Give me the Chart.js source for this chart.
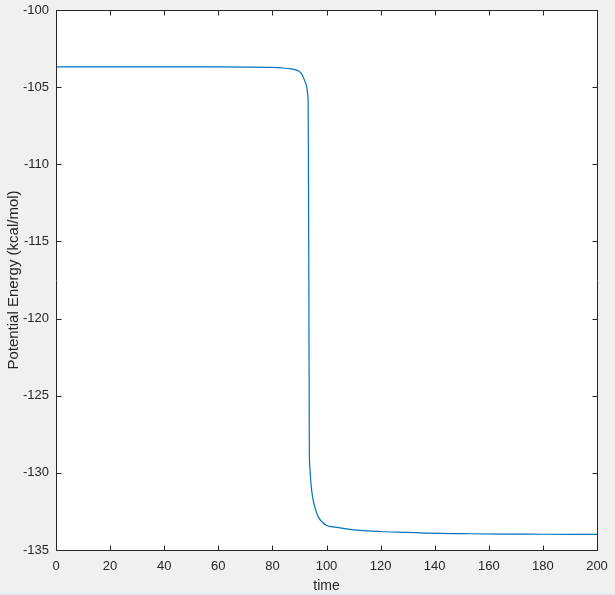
<!DOCTYPE html>
<html>
<head>
<meta charset="utf-8">
<script src="https://cdn.jsdelivr.net/npm/chart.js@4/dist/chart.umd.min.js"></script>
<style>
  html, body { margin: 0; padding: 0; background: #f0f0f0; }
  canvas { display: block; }
</style>
</head>
<body>
<canvas id="c" width="615" height="595"></canvas>
<script>
// ---- Data ----
const times = [0, 20, 40, 60, 70, 80, 84, 87, 89, 90.2, 91, 91.7, 92.3, 92.7, 93.0, 93.2, 93.3, 93.5, 93.65, 93.9, 94.3, 95.1, 96, 97, 98.5, 100.1, 102.5, 105, 108, 112.4, 119.8, 130, 138.3, 150, 164.1, 180, 200];
const energies = [-103.685, -103.685, -103.687, -103.69, -103.70, -103.72, -103.76, -103.82, -103.9, -104.03, -104.2, -104.48, -104.75, -105.0, -105.4, -105.9, -109.0, -118.8, -128.5, -129.8, -130.8, -131.8, -132.4, -132.87, -133.2, -133.41, -133.5, -133.56, -133.65, -133.73, -133.80, -133.86, -133.91, -133.94, -133.97, -133.98, -133.99];
const xTicks = [0, 20, 40, 60, 80, 100, 120, 140, 160, 180, 200];
const yTicks = [-135, -130, -125, -120, -115, -110, -105, -100];
const xLabel = 'time';
const yLabel = 'Potential Energy (kcal/mol)';

const points = times.map((t, i) => ({ x: t, y: energies[i] }));

const AXIS = '#262626';
const FONT = '"Liberation Sans", Arial, Helvetica, sans-serif';

const boxPlugin = {
  id: 'matlabBox',
  beforeDraw(chart) {
    const { ctx, chartArea: a } = chart;
    ctx.save();
    ctx.fillStyle = '#f0f0f0';
    ctx.fillRect(0, 0, chart.width, chart.height);
    ctx.fillStyle = '#e1ebf7';
    ctx.fillRect(0, chart.height - 2, chart.width, 2);
    ctx.fillStyle = '#ffffff';
    ctx.fillRect(a.left, a.top, a.right - a.left + 1, a.bottom - a.top + 1);
    ctx.restore();
  },
  afterDraw(chart) {
    const { ctx, chartArea: a, scales } = chart;
    const L = a.left + 0.5, R = a.right + 0.5, T = a.top + 0.5, B = a.bottom + 0.5;
    const tl = 5;
    ctx.save();
    ctx.strokeStyle = AXIS;
    ctx.lineWidth = 1;
    ctx.beginPath();
    ctx.rect(L, T, R - L, B - T);
    ctx.stroke();
    ctx.beginPath();
    xTicks.forEach(v => {
      const px = Math.round(scales.x.getPixelForValue(v)) + 0.5;
      ctx.moveTo(px, B); ctx.lineTo(px, B - tl);
      ctx.moveTo(px, T); ctx.lineTo(px, T + tl);
    });
    yTicks.forEach(v => {
      const py = Math.round(scales.y.getPixelForValue(v)) + 0.5;
      ctx.moveTo(L, py); ctx.lineTo(L + tl, py);
      ctx.moveTo(R, py); ctx.lineTo(R - tl, py);
    });
    ctx.stroke();
    ctx.restore();
  }
};

new Chart(document.getElementById('c'), {
  type: 'line',
  data: {
    datasets: [{
      data: points,
      borderColor: '#0072BD',
      borderWidth: 1.2,
      pointRadius: 0,
      fill: false,
      cubicInterpolationMode: 'monotone'
    }]
  },
  options: {
    responsive: false,
    animation: false,
    events: [],
    layout: { padding: { left: 0, top: 10, right: 18, bottom: 0 } },
    plugins: { legend: { display: false }, tooltip: { enabled: false } },
    scales: {
      x: {
        type: 'linear',
        min: 0, max: 200,
        afterFit(s) { s.height = 45; s.paddingLeft = 0; s.paddingRight = 0; },
        afterBuildTicks(s) { s.ticks = xTicks.map(v => ({ value: v })); },
        grid: { display: false, drawTicks: false },
        border: { display: false },
        ticks: { color: AXIS, font: { family: FONT, size: 13 }, padding: 9, maxRotation: 0, autoSkip: false },
        title: { display: true, text: xLabel, color: AXIS, font: { family: FONT, size: 14 }, padding: { top: 0, bottom: 0 } }
      },
      y: {
        type: 'linear',
        min: -135, max: -100,
        afterFit(s) { s.width = 56; s.paddingTop = 0; s.paddingBottom = 0; },
        afterBuildTicks(s) { s.ticks = yTicks.map(v => ({ value: v })); },
        grid: { display: false, drawTicks: false },
        border: { display: false },
        ticks: { color: AXIS, font: { family: FONT, size: 13 }, padding: 7, autoSkip: false },
        title: { display: true, text: yLabel, color: AXIS, font: { family: FONT, size: 15 }, padding: { top: 5, bottom: 0 } }
      }
    }
  },
  plugins: [boxPlugin]
});
</script>
</body>
</html>
